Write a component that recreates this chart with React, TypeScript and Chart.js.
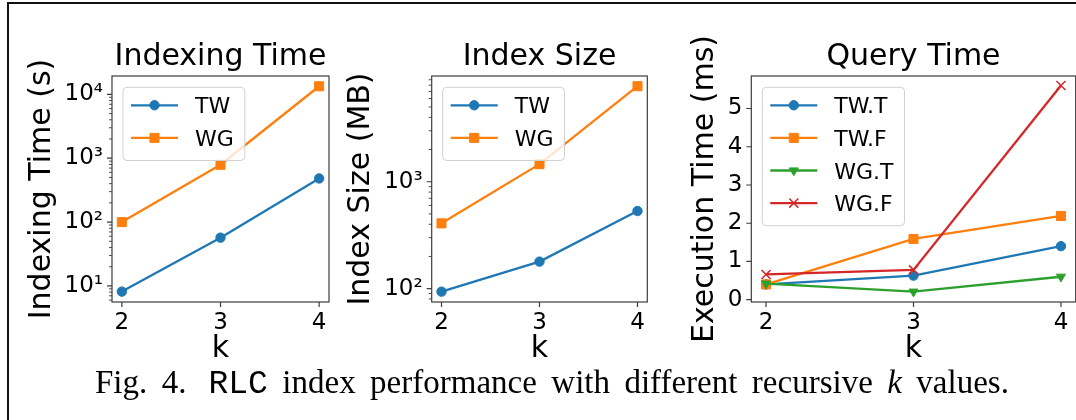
import React, { useEffect, useRef } from 'react';
import { Chart, registerables, PointElement } from 'chart.js';

Chart.register(...registerables);

// ---------- data ----------
const K_VALUES = [2, 3, 4];
const INDEXING_TIME_TW = [8.15, 57, 482];
const INDEXING_TIME_WG = [100, 790, 13400];
const INDEX_SIZE_TW = [93.7, 179, 532];
const INDEX_SIZE_WG = [408, 1460, 7830];
const QUERY_TW_T = [0.4, 0.63, 1.4];
const QUERY_TW_F = [0.4, 1.59, 2.19];
const QUERY_WG_T = [0.42, 0.21, 0.6];
const QUERY_WG_F = [0.66, 0.78, 5.6];

const X_TICKS = [2, 3, 4];
const TIME_TICKS = [10, 100, 1000, 10000];
const TIME_MINOR = [6, 7, 8, 9, 20, 30, 40, 50, 60, 70, 80, 90, 200, 300, 400, 500, 600, 700, 800, 900, 2000, 3000, 4000, 5000, 6000, 7000, 8000, 9000];
const SIZE_TICKS = [100, 1000];
const SIZE_MINOR = [80, 90, 200, 300, 400, 500, 600, 700, 800, 900, 2000, 3000, 4000, 5000, 6000, 7000, 8000, 9000];
const QUERY_TICKS = [0, 1, 2, 3, 4, 5];
const POW_LABELS: Record<number, string> = { 10: '10¹', 100: '10²', 1000: '10³', 10000: '10⁴' };

const BLUE = '#1f77b4';
const ORANGE = '#ff7f0e';
const GREEN = '#2ca02c';
const RED = '#d62728';
const FONT = '"DejaVu Sans", sans-serif';
const SPINE = '#3c3c3c';
const TICK_SIZE = 23;

type Series = { label: string; values: number[]; color: string; style: string; radius: number; rotation?: number; pbw?: number };

type Panel = {
  title: string;
  yTitle: string;
  yType: 'logarithmic' | 'linear';
  yMin: number;
  yMax: number;
  yTicks: number[];
  yMinor: number[];
  yLabel: (v: number) => string;
  series: Series[];
  left: number;
  width: number;
  yAxisWidth: number;
  yTitlePad: number;
  padRight: number;
};

const mplPlugin = {
  id: 'mpl',
  afterDraw(chart: any, _args: any, opts: any) {
    const ctx: CanvasRenderingContext2D = chart.ctx;
    const a = chart.chartArea;
    const xs = chart.scales.x;
    const ys = chart.scales.y;
    ctx.save();
    ctx.strokeStyle = SPINE;
    ctx.lineWidth = 1.2;
    ctx.beginPath();
    for (const v of opts.xMajor) {
      const px = xs.getPixelForValue(v);
      ctx.moveTo(px, a.bottom);
      ctx.lineTo(px, a.bottom + 5);
    }
    for (const v of opts.yMajor) {
      const py = ys.getPixelForValue(v);
      ctx.moveTo(a.left - 5, py);
      ctx.lineTo(a.left, py);
    }
    ctx.stroke();
    ctx.lineWidth = 0.9;
    ctx.beginPath();
    for (const v of opts.yMinor) {
      const py = ys.getPixelForValue(v);
      ctx.moveTo(a.left - 3, py);
      ctx.lineTo(a.left, py);
    }
    ctx.stroke();
    ctx.lineWidth = 1.2;
    ctx.strokeRect(a.left, a.top, a.right - a.left, a.bottom - a.top);

    // legend
    const ds = chart.data.datasets;
    const boxL = a.left + 11;
    const boxT = a.top + 11.3;
    ctx.font = `22px ${FONT}`;
    let maxW = 0;
    for (const d of ds) maxW = Math.max(maxW, ctx.measureText(d.label).width);
    const boxW = 72 + maxW + 11;
    const boxH = 18 + (ds.length - 1) * 32.6 + 22.6;
    ctx.beginPath();
    (ctx as any).roundRect(boxL, boxT, boxW, boxH, 4);
    ctx.fillStyle = 'rgba(255,255,255,0.8)';
    ctx.fill();
    ctx.strokeStyle = '#d0d0d0';
    ctx.lineWidth = 1;
    ctx.stroke();
    ds.forEach((d: any, i: number) => {
      const y = boxT + 18 + i * 32.6;
      ctx.beginPath();
      ctx.strokeStyle = d.borderColor;
      ctx.lineWidth = d.borderWidth;
      ctx.moveTo(boxL + 8, y);
      ctx.lineTo(boxL + 55, y);
      ctx.stroke();
      const p: any = new (PointElement as any)({
        x: boxL + 31.5,
        y,
        options: {
          pointStyle: d.pointStyle,
          rotation: d.pointRotation || 0,
          radius: d.pointRadius,
          borderWidth: d.pointBorderWidth,
          backgroundColor: d.pointBackgroundColor,
          borderColor: d.pointBorderColor,
        },
      });
      p.draw(ctx, a);
      ctx.fillStyle = '#000';
      ctx.textBaseline = 'alphabetic';
      ctx.textAlign = 'left';
      ctx.fillText(d.label, boxL + 72, y + 8);
    });
    ctx.restore();
  },
};

function makeConfig(p: Panel): any {
  const n = p.series.length;
  return {
    type: 'line',
    data: {
      datasets: p.series.map((s, i) => ({
        label: s.label,
        data: K_VALUES.map((k, j) => ({ x: k, y: s.values[j] })),
        borderColor: s.color,
        backgroundColor: s.color,
        borderWidth: 2.3,
        pointStyle: s.style,
        pointRadius: s.radius,
        pointHoverRadius: s.radius,
        pointRotation: s.rotation || 0,
        pointBorderWidth: s.pbw || 1,
        pointBackgroundColor: s.color,
        pointBorderColor: s.color,
        tension: 0,
        order: n - i,
      })),
    },
    options: {
      animation: false,
      responsive: false,
      devicePixelRatio: 1,
      events: [],
      layout: { padding: { left: 0, top: 0, right: p.padRight, bottom: 0 } },
      plugins: {
        legend: { display: false },
        tooltip: { enabled: false },
        title: {
          display: true,
          text: p.title,
          fullSize: false,
          color: '#000',
          font: { family: FONT, size: 30, weight: 'normal', lineHeight: 1.2 },
          padding: { top: 19.6, bottom: 0.4 },
        },
        mpl: { xMajor: X_TICKS, yMajor: p.yTicks, yMinor: p.yMinor },
      },
      scales: {
        x: {
          type: 'linear',
          bounds: 'data',
          min: 1.9,
          max: 4.1,
          afterBuildTicks: (s: any) => {
            s.ticks = X_TICKS.map((v) => ({ value: v }));
          },
          afterFit: (s: any) => {
            s.height = 78;
            s.paddingLeft = 0;
            s.paddingRight = 0;
          },
          ticks: {
            autoSkip: false,
            maxRotation: 0,
            padding: 7,
            color: '#000',
            font: { family: FONT, size: TICK_SIZE },
            callback: (v: number) => String(v),
          },
          grid: { display: false, drawTicks: false },
          border: { display: false },
          title: {
            display: true,
            text: 'k',
            color: '#000',
            font: { family: FONT, size: 30, lineHeight: 1.2 },
            padding: { top: 0, bottom: 12.4 },
          },
        },
        y: {
          type: p.yType,
          bounds: 'data',
          min: p.yMin,
          max: p.yMax,
          afterBuildTicks: (s: any) => {
            s.ticks = p.yTicks.map((v) => ({ value: v }));
          },
          afterFit: (s: any) => {
            s.width = p.yAxisWidth;
            s.paddingTop = 0;
            s.paddingBottom = 0;
          },
          ticks: {
            autoSkip: false,
            padding: 9,
            color: '#000',
            font: { family: FONT, size: TICK_SIZE },
            callback: (v: number) => p.yLabel(v),
          },
          grid: { display: false, drawTicks: false },
          border: { display: false },
          title: {
            display: true,
            text: p.yTitle,
            color: '#000',
            font: { family: FONT, size: 30, lineHeight: 1.2 },
            padding: { top: p.yTitlePad, bottom: 0 },
          },
        },
      },
    },
    plugins: [mplPlugin],
  };
}

const PANELS: Panel[] = [
  {
    title: 'Indexing Time',
    yTitle: 'Indexing Time (s)',
    yType: 'logarithmic',
    yMin: 5.6,
    yMax: 19400,
    yTicks: TIME_TICKS,
    yMinor: TIME_MINOR,
    yLabel: (v) => POW_LABELS[v] || '',
    series: [
      { label: 'TW', values: INDEXING_TIME_TW, color: BLUE, style: 'circle', radius: 4.7 },
      { label: 'WG', values: INDEXING_TIME_WG, color: ORANGE, style: 'rect', radius: 6.4 },
    ],
    left: 10,
    width: 329,
    yAxisWidth: 102,
    yTitlePad: 14.3,
    padRight: 10,
  },
  {
    title: 'Index Size',
    yTitle: 'Index Size (MB)',
    yType: 'logarithmic',
    yMin: 75,
    yMax: 9750,
    yTicks: SIZE_TICKS,
    yMinor: SIZE_MINOR,
    yLabel: (v) => POW_LABELS[v] || '',
    series: [
      { label: 'TW', values: INDEX_SIZE_TW, color: BLUE, style: 'circle', radius: 4.7 },
      { label: 'WG', values: INDEX_SIZE_WG, color: ORANGE, style: 'rect', radius: 6.4 },
    ],
    left: 340,
    width: 318,
    yAxisWidth: 91.7,
    yTitlePad: 3.6,
    padRight: 10.7,
  },
  {
    title: 'Query Time',
    yTitle: 'Execution Time (ms)',
    yType: 'linear',
    yMin: -0.06,
    yMax: 5.85,
    yTicks: QUERY_TICKS,
    yMinor: [],
    yLabel: (v) => String(v),
    series: [
      { label: 'TW.T', values: QUERY_TW_T, color: BLUE, style: 'circle', radius: 4.7 },
      { label: 'TW.F', values: QUERY_TW_F, color: ORANGE, style: 'rect', radius: 6.4 },
      { label: 'WG.T', values: QUERY_WG_T, color: GREEN, style: 'triangle', radius: 5.2, rotation: 180 },
      { label: 'WG.F', values: QUERY_WG_F, color: RED, style: 'crossRot', radius: 6.4, pbw: 1.5 },
    ],
    left: 680,
    width: 406,
    yAxisWidth: 71.3,
    yTitlePad: 7.6,
    padRight: 10.3,
  },
];

function PanelChart({ panel }: { panel: Panel }) {
  const ref = useRef<HTMLCanvasElement>(null);
  useEffect(() => {
    const c = new Chart(ref.current as HTMLCanvasElement, makeConfig(panel));
    return () => c.destroy();
  }, [panel]);
  return (
    <canvas
      ref={ref}
      width={panel.width}
      height={360}
      style={{ position: 'absolute', left: panel.left, top: 20, display: 'block' }}
    />
  );
}

export default function App() {
  return (
    <div
      style={{
        position: 'absolute',
        left: 0,
        top: 0,
        width: 1076,
        height: 420,
        overflow: 'hidden',
        background: '#fff',
      }}
    >
      <div
        style={{
          position: 'absolute',
          left: 7,
          top: 2,
          width: 1200,
          height: 600,
          borderLeft: '2px solid #111',
          borderTop: '2px solid #111',
        }}
      />
      {PANELS.map((p) => (
        <PanelChart key={p.title} panel={p} />
      ))}
      <div
        style={{
          position: 'absolute',
          left: 95,
          top: 366.4,
          fontFamily: '"Liberation Serif", serif',
          fontSize: 33,
          lineHeight: '33px',
          whiteSpace: 'nowrap',
          color: '#000',
          wordSpacing: 6.2,
        }}
      >
        Fig. 4.<span style={{ display: 'inline-block', width: 22 }} />
        <span style={{ fontFamily: '"Liberation Mono", monospace', wordSpacing: 0 }}>RLC</span> index performance with
        different recursive <i>k</i> values.
      </div>
    </div>
  );
}
